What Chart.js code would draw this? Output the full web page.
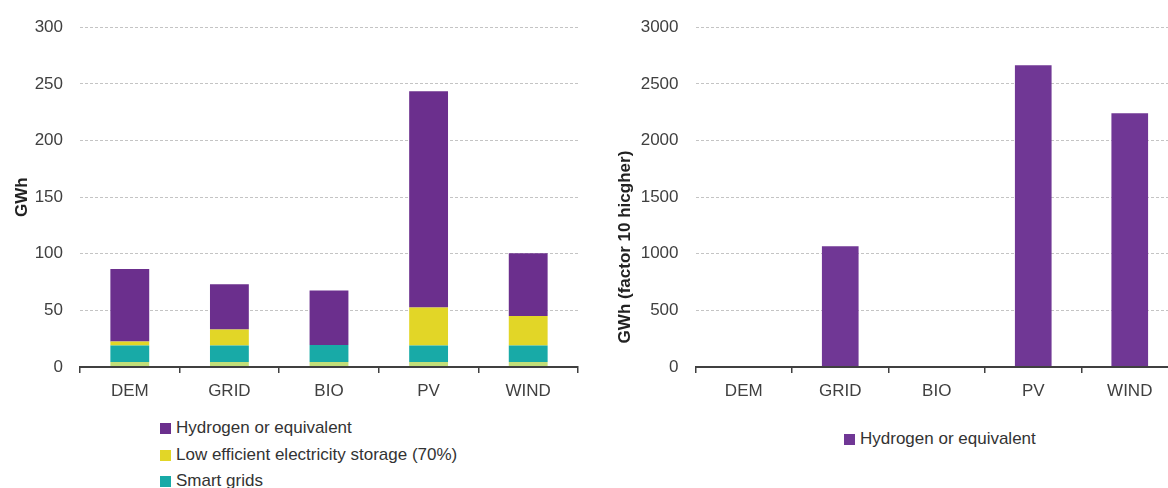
<!DOCTYPE html>
<html>
<head>
<meta charset="utf-8">
<script src="https://cdn.jsdelivr.net/npm/chart.js@4.4.1/dist/chart.umd.min.js"></script>
<style>
  html, body { margin: 0; padding: 0; background: #fff; overflow: hidden; width: 1168px; height: 488px; }
  #page { position: relative; width: 1168px; height: 488px; overflow: hidden; }
  .box { position: absolute; }
  .legend { position: absolute; font-family: 'Liberation Sans', Arial, sans-serif; font-size: 17px; color: #333; }
  .legend div { height: 26.7px; line-height: 26.7px; white-space: nowrap; }
  .legend span { display: inline-block; width: 11px; height: 11px; margin-right: 5px; vertical-align: -1px; }
</style>
</head>
<body>
<div id="page">
  <div class="box" style="left:0;top:0;width:590px;height:402px;"><canvas id="leftChart"></canvas></div>
  <div class="box" style="left:590px;top:0;width:598px;height:402px;"><canvas id="rightChart"></canvas></div>
  <div class="legend" id="leftLegend" style="left:160px;top:415px;"></div>
  <div class="legend" id="rightLegend" style="left:844px;top:426px;"></div>
</div>
<script>
// categories shared by both panels
let categories = ['DEM', 'GRID', 'BIO', 'PV', 'WIND'];

// left panel, GWh (stacked from the bottom up)
let bottomBand = [4.5, 4.5, 4.5, 4.5, 4.5]; // lowest band, its legend entry is cut off in the source
let smartGrids = [14.5, 14.5, 15, 14.5, 14.5];
let lowEffStorage = [3.5, 14, 0, 33.5, 26];
let hydrogen = [64, 40, 48, 191, 55.5];

// right panel, GWh (factor 10 higher)
let hydrogenX10 = [0, 1065, 0, 2665, 2240];

const FONT = "'Liberation Sans', Arial, sans-serif";
const TXT = '#404040';

// yWidth and the x height fix the axis boxes so the plot lands where the source has it
function scalesFor(max, step, titleText, titleAlign, yWidth) {
    return {
        x: {
            grid: { display: true, drawOnChartArea: false, drawTicks: true, tickLength: 6, color: '#404040', lineWidth: 1.5 },
            border: { display: true, color: '#404040', width: 2, z: 1 },
            ticks: { color: TXT, font: { family: FONT, size: 17 }, padding: 8 },
            afterFit: (s) => { s.height = 35; }
        },
        y: {
            min: 0,
            max: max,
            ticks: { stepSize: step, color: TXT, font: { family: FONT, size: 17 }, padding: 17, callback: (v) => String(v) },
            grid: { color: '#c4c4c4', lineWidth: 1, drawTicks: false },
            border: { display: false, dash: [3, 2] },
            title: {
                display: true,
                text: titleText,
                align: titleAlign,
                color: '#222',
                font: { family: FONT, size: 17, weight: 'bold' }
            },
            afterFit: (s) => { s.width = yWidth; }
        }
    };
}

let leftColors = ['#c2de78', '#18aaa7', '#e2d627', '#6b2f8d'];
let leftLabels = ['', 'Smart grids', 'Low efficient electricity storage (70%)', 'Hydrogen or equivalent'];
let leftSeries = [bottomBand, smartGrids, lowEffStorage, hydrogen];

new Chart(document.getElementById('leftChart'), {
    type: 'bar',
    data: {
        labels: categories,
        datasets: leftSeries.map((d, i) => ({
            label: leftLabels[i],
            data: d,
            backgroundColor: leftColors[i],
            borderWidth: 0,
            categoryPercentage: 1,
            barPercentage: 0.39
        }))
    },
    options: {
        responsive: true,
        maintainAspectRatio: false,
        animation: false,
        layout: { padding: { left: 8, right: 12, top: 24, bottom: 0 } },
        plugins: { legend: { display: false }, tooltip: { enabled: false } },
        scales: (function () {
            let s = scalesFor(300, 50, 'GWh', 'center', 72);
            s.x.stacked = true;
            s.y.stacked = true;
            return s;
        })()
    }
});

new Chart(document.getElementById('rightChart'), {
    type: 'bar',
    data: {
        labels: categories,
        datasets: [{
            label: 'Hydrogen or equivalent',
            data: hydrogenX10,
            backgroundColor: '#703795',
            borderWidth: 0,
            categoryPercentage: 1,
            barPercentage: 0.38
        }]
    },
    options: {
        responsive: true,
        maintainAspectRatio: false,
        animation: false,
        layout: { padding: { left: 21, right: 10, top: 24, bottom: 0 } },
        plugins: { legend: { display: false }, tooltip: { enabled: false } },
        scales: scalesFor(3000, 500, '     GWh (factor 10 hicgher)', 'start', 84.5)
    }
});

// legends (top-down order as in the source)
function fillLegend(el, labels, colors) {
    el.innerHTML = labels.map((l, i) =>
        '<div><span style="background:' + colors[i] + '"></span>' + l + '</div>').join('');
}
fillLegend(document.getElementById('leftLegend'),
    ['Hydrogen or equivalent', 'Low efficient electricity storage (70%)', 'Smart grids'],
    ['#6b2f8d', '#e2d627', '#18aaa7']);
fillLegend(document.getElementById('rightLegend'), ['Hydrogen or equivalent'], ['#703795']);
</script>
</body>
</html>
